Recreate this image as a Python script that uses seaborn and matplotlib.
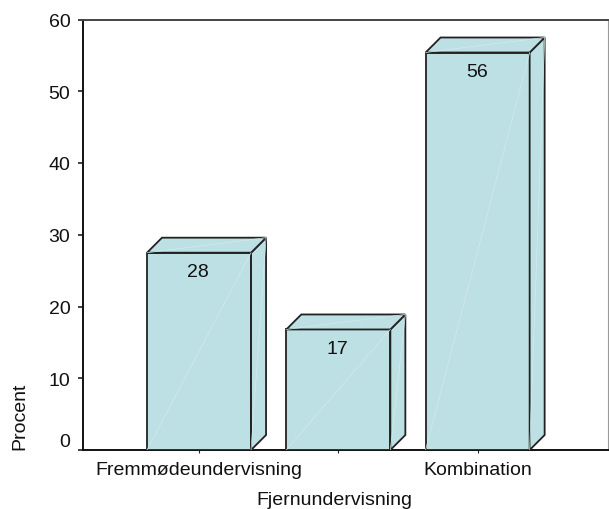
import matplotlib
matplotlib.use('Agg')
import matplotlib.pyplot as plt
import matplotlib.transforms as mtrans
from matplotlib.patches import Polygon
import pandas as pd
import seaborn as sns

categories = ['Fremmødeundervisning', 'Fjernundervisning', 'Kombination']
values = [27.5, 16.8, 55.4]
value_labels = ['28', '17', '56']
y_ticks = [0, 10, 20, 30, 40, 50, 60]

sns.set_style('white')
plt.rcParams['font.family'] = ['Liberation Sans', 'DejaVu Sans']

W, H = 609, 510
fill = '#bce0e3'
edge = '#222222'
sheen = '#d2ebed'

df = pd.DataFrame({'kategori': categories, 'procent': values})

fig = plt.figure(figsize=(W / 100, H / 100), dpi=100)
ax = fig.add_axes([83 / W, 1 - 451 / H, 525 / W, 430.5 / H])

sns.barplot(data=df, x='kategori', y='procent', color=fill, saturation=1,
            width=0.747, edgecolor=edge, linewidth=1.3, ax=ax, zorder=3)
ax.set_xlim(-0.833, 2.936)
ax.set_ylim(0, 60)

# depth of the 3d boxes, 15 px up and right
dx = 15 / (525 / (2.936 + 0.833))
dy = 15 / (430.5 / 60)

for bar, lab in zip(ax.patches, value_labels):
    x0, w, h = bar.get_x(), bar.get_width(), bar.get_height()
    x1 = x0 + w
    side = [(x1, 0), (x1 + dx, dy), (x1 + dx, h + dy), (x1, h)]
    top = [(x0, h), (x0 + dx, h + dy), (x1 + dx, h + dy), (x1, h)]
    for pts in (side, top):
        ax.add_patch(Polygon(pts, closed=True, facecolor=fill, edgecolor=edge,
                             linewidth=1.3, joinstyle='miter', zorder=3))
    # faint sheen lines
    ax.plot([x0, x1], [0, h], color=sheen, lw=0.5, zorder=3.1)
    ax.plot([x1, x1 + dx], [0, h + dy], color=sheen, lw=0.5, zorder=3.1)
    ax.plot([x0, x1 + dx], [h, h + dy], color=sheen, lw=0.5, zorder=3.1)
    ax.annotate(lab, (x0 + w / 2, h), xytext=(-1, -19), textcoords='offset pixels',
                ha='center', va='center', fontsize=14, color='#111111', zorder=5)

ax.set_yticks(y_ticks)
ax.set_xlabel('')
ax.set_ylabel('Procent', fontsize=14, color='#111111')
ax.yaxis.set_label_coords(28 / W, 1 - 416 / H, transform=fig.transFigure)
ax.set_xticks(range(len(categories)))
ax.set_xticklabels(categories)

ax.tick_params(axis='y', left=True, length=3.6, width=1.2, color=edge, pad=5.5,
               labelsize=14, labelcolor='#111111')
ax.tick_params(axis='x', bottom=True, length=2.2, width=0.8, color=edge,
               labelsize=14, labelcolor='#111111', pad=6)

# second category label sits one row lower, the 0 is lifted off the axis
mid = ax.get_xticklabels()[1]
mid.set_y(-0.068)
mid.set_transform(mid.get_transform() +
                  mtrans.ScaledTranslation(-4 / 100, 0, fig.dpi_scale_trans))
y_labs = ax.get_yticklabels()
y_labs[0].set_transform(y_labs[0].get_transform() +
                        mtrans.ScaledTranslation(0, 10 / 100, fig.dpi_scale_trans))

for s in ('left', 'bottom'):
    ax.spines[s].set_color('#111111')
    ax.spines[s].set_linewidth(1.4)
ax.spines['top'].set_color('#444444')
ax.spines['top'].set_linewidth(1.4)
ax.spines['right'].set_color('#9a9a9a')
ax.spines['right'].set_linewidth(0.8)

fig.savefig('out.png', dpi=100)
